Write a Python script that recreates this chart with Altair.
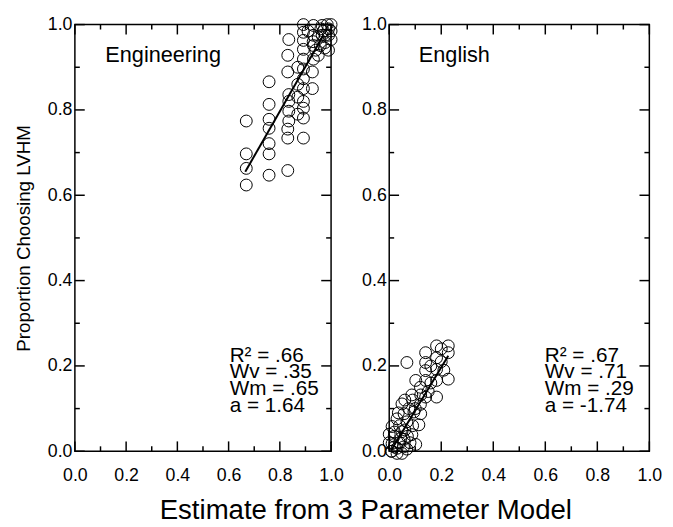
import altair as alt
import pandas as pd

FONT = "Liberation Sans"

# ---------------- data ----------------
eng_x = [0.669, 0.669, 0.669, 0.669,
         0.758, 0.758, 0.758, 0.758, 0.758, 0.758, 0.758,
         0.831, 0.831, 0.831, 0.835, 0.835, 0.835, 0.835, 0.831, 0.831, 0.835,
         0.87, 0.87, 0.87, 0.87,
         0.892, 0.892, 0.892, 0.892, 0.892, 0.892, 0.892, 0.892, 0.892, 0.892, 0.892, 0.892,
         0.927, 0.927, 0.931, 0.931, 0.931, 0.931,
         0.95, 0.958, 0.965, 0.965, 0.94,
         0.977, 0.977, 0.99, 1.0, 0.99, 1.0, 0.985, 1.0, 0.97, 0.96, 0.95, 0.93, 0.91, 0.99, 0.975]
eng_y = [0.624, 0.663, 0.697, 0.774,
         0.647, 0.697, 0.721, 0.757, 0.778, 0.813, 0.866,
         0.658, 0.734, 0.755, 0.774, 0.797, 0.820, 0.836, 0.889, 0.928, 0.965,
         0.79, 0.83, 0.86, 0.90,
         0.734, 0.781, 0.804, 0.820, 0.850, 0.873, 0.896, 0.919, 0.942, 0.963, 0.982, 1.0,
         0.850, 0.889, 0.919, 0.951, 0.975, 0.998,
         0.928, 0.951, 0.975, 0.998, 0.94,
         0.958, 0.975, 0.99, 1.0, 0.94, 0.965, 1.0, 0.985, 0.985, 0.99, 0.97, 0.96, 0.985, 0.975, 0.945]
eng_fit_x = [0.665, 0.97]
eng_fit_y = [0.655, 0.975]
eng_stats = ["R\u00b2 = .66", "Wv = .35", "Wm = .65", "a = 1.64"]

engl_x = [0.182, 0.227, 0.14, 0.182, 0.227, 0.068, 0.14, 0.182, 0.14, 0.102,
          0.14, 0.182, 0.227, 0.087, 0.121, 0.14, 0.182, 0.049, 0.057, 0.095,
          0.121, 0.03, 0.068, 0.114, 0.011, 0.049, 0.087, 0.019, 0.057, 0.102,
          0.011, 0.03, 0.068, 0.008, 0.049,
          0.02, 0.04, 0.0, 0.02, 0.04, 0.06, 0.035, 0.075, 0.09, 0.06, 0.01, 0.03,
          0.055, 0.08, 0.09, 0.1, 0.12, 0.16, 0.16, 0.2, 0.2, 0.21, 0.12, 0.15,
          0.07, 0.045, 0.0]
engl_y = [0.247, 0.247, 0.231, 0.219, 0.231, 0.208, 0.208, 0.192, 0.189, 0.166,
          0.166, 0.166, 0.169, 0.132, 0.132, 0.127, 0.127, 0.111, 0.088, 0.092,
          0.088, 0.076, 0.069, 0.062, 0.058, 0.046, 0.039, 0.035, 0.028, 0.016,
          0.018, 0.007, 0.005, 0.0, -0.005,
          0.01, 0.02, 0.02, 0.045, 0.06, 0.05, 0.09, 0.1, 0.12, 0.12, 0.0, -0.005,
          0.01, 0.02, 0.06, 0.1, 0.11, 0.16, 0.2, 0.21, 0.24, 0.19, 0.15, 0.14,
          0.035, 0.03, 0.04]
engl_fit_x = [0.008, 0.227]
engl_fit_y = [0.003, 0.224]
engl_stats = ["R\u00b2 = .67", "Wv = .71", "Wm = .29", "a = -1.74"]

tick_major = [0.0, 0.2, 0.4, 0.6, 0.8, 1.0]
tick_minor = [0.1, 0.3, 0.5, 0.7, 0.9]

# positions of annotations (data coordinates)
stats_y = [0.224, 0.185, 0.145, 0.106]

H = 433


def panel(xs, ys, fx, fy, name, name_x, stats, stats_x, W, ytitle):
    scx = alt.Scale(domain=[0, 1], nice=False, zero=False)
    scy = alt.Scale(domain=[0, 1], nice=False, zero=False)
    pts = pd.DataFrame({"x": xs, "y": ys})
    fit = pd.DataFrame({"x": fx, "y": fy})

    common = dict(values=tick_major, format=".1f", ticks=False, domain=False, grid=False,
                  labelFont=FONT, labelFontSize=18, labelColor="black", labelFlush=False)
    if ytitle:
        yaxis = alt.Axis(labelPadding=3, title=ytitle, titleFont=FONT, titleFontSize=19,
                         titleFontWeight="normal", titleColor="black", titlePadding=14, **common)
    else:
        yaxis = alt.Axis(labelPadding=3, title=None, **common)
    xaxis = alt.Axis(labelPadding=16, title=None, **common)

    def X(f):
        return alt.X(f, scale=scx, axis=xaxis, title=None)

    def Y(f):
        return alt.Y(f, scale=scy, axis=yaxis, title=ytitle if ytitle else None)

    points = alt.Chart(pts).mark_point(shape="circle", filled=False, color="black",
                                       strokeWidth=1, size=145, opacity=1).encode(
        x=X("x:Q"), y=Y("y:Q"))
    line = alt.Chart(fit).mark_line(color="black", strokeWidth=2).encode(
        x=X("x:Q"), y=Y("y:Q"))

    lab = pd.DataFrame({"x": [name_x], "y": [0.928], "t": [name]})
    label = alt.Chart(lab).mark_text(align="left", baseline="middle", font=FONT,
                                     fontSize=22, color="black").encode(
        x=X("x:Q"), y=Y("y:Q"), text="t:N")

    st = pd.DataFrame({"x": [stats_x] * len(stats), "y": stats_y, "t": stats})
    stats_txt = alt.Chart(st).mark_text(align="left", baseline="middle", font=FONT,
                                        fontSize=21, color="black").encode(
        x=X("x:Q"), y=Y("y:Q"), text="t:N")

    layers = [points, line, label, stats_txt]
    for vals, ln in ((tick_major, 10), (tick_minor, 5)):
        td = pd.DataFrame({"t": vals})
        base = alt.Chart(td).mark_rule(color="black", strokeWidth=1.5)
        layers.append(base.encode(x=X("t:Q"), y=alt.value(H), y2=alt.value(H - ln)))
        layers.append(base.encode(x=X("t:Q"), y=alt.value(0), y2=alt.value(ln)))
        layers.append(base.encode(y=Y("t:Q"), x=alt.value(0), x2=alt.value(ln)))
        layers.append(base.encode(y=Y("t:Q"), x=alt.value(W), x2=alt.value(W - ln)))
    return alt.layer(*layers).properties(width=W, height=H)


left = panel(eng_x, eng_y, eng_fit_x, eng_fit_y, "Engineering", 0.119, eng_stats, 0.604,
             260, "Proportion Choosing LVHM")
right = panel(engl_x, engl_y, engl_fit_x, engl_fit_y, "English", 0.114, engl_stats, 0.598,
              264, None)

chart = alt.hconcat(left, right, spacing=59, bounds="flush").properties(
    title=alt.TitleParams("Estimate from 3 Parameter Model", orient="bottom", anchor="middle",
                          fontSize=28, font=FONT, fontWeight="normal", color="black",
                          offset=12, dx=28),
    padding={"left": 14, "top": 11, "right": 10, "bottom": 4},
    background="white",
).configure_view(stroke="black", strokeWidth=1.5)

chart.save("out.html", embed_options={"renderer": "svg", "actions": False})
